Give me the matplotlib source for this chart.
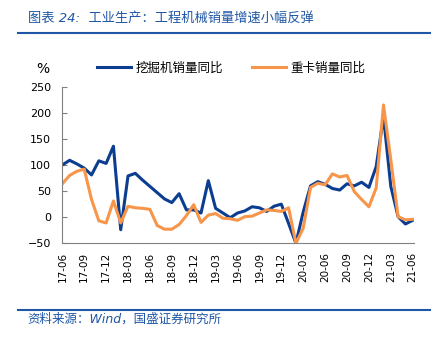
import matplotlib
matplotlib.use('Agg')
import matplotlib.pyplot as plt
from matplotlib.lines import Line2D

plt.rcParams['font.family'] = ['DejaVu Sans', 'Noto Sans CJK SC']

# monthly, 2017-06 .. 2021-06
months = ['17-06', '17-07', '17-08', '17-09', '17-10', '17-11', '17-12',
          '18-01', '18-02', '18-03', '18-04', '18-05', '18-06', '18-07', '18-08', '18-09', '18-10', '18-11', '18-12',
          '19-01', '19-02', '19-03', '19-04', '19-05', '19-06', '19-07', '19-08', '19-09', '19-10', '19-11', '19-12',
          '20-01', '20-02', '20-03', '20-04', '20-05', '20-06', '20-07', '20-08', '20-09', '20-10', '20-11', '20-12',
          '21-01', '21-02', '21-03', '21-04', '21-05', '21-06']

excavator = [100, 109, 102, 94, 81, 108, 103,
             136, -24, 79, 84, 71, 59, 47, 35, 28, 45, 14, 14,
             8, 70, 17, 8, -1, 8, 12, 20, 18, 11, 21, 25,
             -12, -50, 10, 60, 68, 63, 55, 52, 64, 60, 67, 57,
             97, 193, 59, 1, -13, -6]

heavy_truck = [64, 80, 88, 92, 34, -7, -11,
               31, -11, 21, 18, 17, 15, -16, -23, -23, -14, 3, 24,
               -10, 4, 7, -2, -3, -6, 1, 2, 8, 14, 13, 11,
               18, -50, -21, 57, 65, 62, 83, 77, 80, 49, 34, 20,
               56, 215, 110, 1, -5, -4]

label_exc = '挖掘机销量同比'
label_truck = '重卡销量同比'

blue = '#0B3D91'
orange = '#F7964A'
title_blue = '#1F56A5'

fig = plt.figure(figsize=(4.42, 3.39), dpi=100)
ax = fig.add_axes([0.141, 0.2823, 0.796, 0.462])

x = list(range(len(months)))
ax.plot(x, excavator, color=blue, lw=2.2, label=label_exc)
ax.plot(x, heavy_truck, color=orange, lw=2.2, label=label_truck)

ax.set_ylim(-50, 250)
ax.set_yticks(range(-50, 251, 50))
ax.set_xlim(0, 48.2)
ax.set_xticks(x[::3])
ax.set_xticklabels(months[::3], rotation=90, fontsize=7.5)
ax.tick_params(axis='x', length=0, pad=6)
ax.tick_params(axis='y', direction='in', length=3.5, color='#808080', labelsize=8, pad=8)

for s in ['top', 'right']:
    ax.spines[s].set_visible(False)
for s in ['left', 'bottom']:
    ax.spines[s].set_color('#808080')
    ax.spines[s].set_linewidth(0.8)

fig.text(0.097, 0.797, '%', fontsize=10, ha='center', va='center')

fig.legend(loc='center', bbox_to_anchor=(0.523, 0.799), ncol=2, frameon=False,
           prop={'family': ['Noto Sans CJK SC'], 'size': 9},
           handlelength=2.7, handletextpad=0.4, columnspacing=2.3)

# header and footer
fig.text(0.063, 0.947, '图表 24:  工业生产：工程机械销量增速小幅反弹', fontsize=9.5,
         style='italic', color=title_blue, va='center', ha='left')
fig.add_artist(Line2D([0.041, 0.973], [0.9027, 0.9027], transform=fig.transFigure,
                      color=title_blue, lw=1.5))
fig.add_artist(Line2D([0.041, 0.973], [0.0855, 0.0855], transform=fig.transFigure,
                      color=title_blue, lw=1.5))
fig.text(0.063, 0.059, '资料来源：Wind，国盛证券研究所', fontsize=9,
         style='italic', color=title_blue, va='center', ha='left')

fig.savefig('out.png', dpi=100)
